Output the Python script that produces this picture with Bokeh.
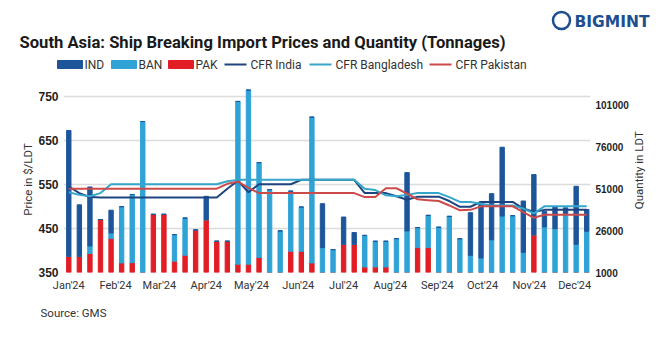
import math
import pandas as pd
from datetime import datetime
from bokeh.plotting import figure
from bokeh.layouts import column, row
from bokeh.models import (Range1d, LinearAxis, FixedTicker, MonthsTicker, DatetimeTickFormatter,
                          NumeralTickFormatter)
from bokeh.models import ColumnDataSource
from bokeh.core.properties import value
from bokeh.embed import file_html
from bokeh.resources import INLINE

# ---- data (weekly, 2024) ----
weeks = pd.date_range("2024-01-01", periods=50, freq="7D")

ind = [75300, 30800, 35300, 0, 13600, 0, 0, 0, 0, 0,
       0, 0, 0, 14000, 0, 0, 0, 0, 0, 0,
       0, 0, 0, 0, 26300, 0, 16300, 7000, 0, 0,
       0, 0, 34900, 0, 0, 0, 0, 0, 25500, 33500,
       27600, 41200, 0, 30700, 36000, 9400, 12900, 3300, 34700, 13000]
ban = [0, 0, 4500, 0, 3400, 33700, 40800, 91400, 0, 0,
       15900, 22300, 0, 0, 0, 0, 97400, 104200, 56800, 50600,
       25900, 36000, 26500, 87300, 15900, 14700, 0, 0, 18900, 15400,
       15400, 21300, 25900, 12000, 19300, 28100, 34600, 21200, 11300, 9700,
       20600, 34800, 35000, 13100, 0, 28300, 27300, 36400, 17900, 25700]
pak = [10700, 10700, 12400, 32700, 21300, 6700, 6900, 0, 35800, 35800,
       7800, 11300, 26500, 32600, 19700, 19700, 6000, 6000, 10000, 0,
       0, 13700, 13700, 6700, 0, 0, 17900, 17900, 4300, 4300,
       4300, 0, 0, 15900, 15900, 0, 0, 0, 0, 0,
       0, 0, 0, 0, 23600, 0, 0, 0, 0, 0]

cfr_india = [545, 530, 521, 520, 520, 520, 520, 520, 520, 520,
             520, 520, 520, 520, 520, 540, 558, 532, 550, 550,
             550, 550, 560, 560, 560, 560, 560, 560, 530, 530,
             530, 523, 515, 522, 522, 522, 512, 499, 499, 510,
             510, 510, 510, 495, 487, 492, 492, 492, 492, 492]
cfr_bangladesh = [532, 526, 523, 530, 550, 550, 550, 550, 550, 550,
                  550, 550, 550, 550, 550, 557, 560, 560, 560, 560,
                  560, 560, 560, 560, 560, 560, 560, 560, 540, 537,
                  525, 523, 526, 530, 530, 530, 521, 510, 510, 506,
                  502, 502, 502, 495, 484, 500, 500, 500, 500, 500]
cfr_pakistan = [540, 540, 540, 540, 540, 540, 540, 540, 540, 540,
                540, 540, 540, 540, 540, 551, 556, 542, 530, 530,
                530, 530, 530, 530, 530, 530, 530, 530, 521, 521,
                541, 541, 529, 516, 514, 512, 502, 491, 492, 500,
                500, 500, 500, 487, 474, 481, 481, 481, 481, 481]

price_ticks = [350, 450, 550, 650, 750]
qty_ticks = [1000, 26000, 51000, 76000, 101000]

series_names = ["IND", "BAN", "PAK"]
line_names = ["CFR India", "CFR Bangladesh", "CFR Pakistan"]

C_IND = "#1d559a"
C_BAN = "#2fa3d6"
C_PAK = "#e11d25"
C_L_IND = "#1e447f"
C_L_BAN = "#35a6cc"
C_L_PAK = "#cd4a4a"
TXT = "#333333"


def blank(w, h):
    f = figure(width=w, height=h, x_range=Range1d(0, w), y_range=Range1d(h, 0),
               output_backend="svg", toolbar_location=None, min_border=0)
    f.axis.visible = False
    f.grid.visible = False
    f.outline_line_color = None
    return f


# ---------------- header ----------------
HH = 80
head = blank(665, HH)
head.text(x=[19], y=[42], text=["South Asia: Ship Breaking Import Prices and Quantity (Tonnages)"],
          text_font=value("Roboto"), text_font_style="bold", text_font_size="16.6px",
          text_color="#1a1a1a", text_baseline="middle")
head.text(x=[574], y=[21], text=["BIGMINT"], text_font=value("DejaVu Sans"),
          text_font_style="bold", text_font_size="15.5px", text_color="#1d4e8f",
          text_baseline="middle")
head.scatter(x=[561], y=[20], marker="circle", size=17, fill_color=None,
             line_color="#1d4e8f", line_width=2.5)

# legend (drawn by hand so it can sit outside the plot frame)
LY = 64
sw_x = [57, 111, 168]          # swatch left edges
ln_x = [224, 309, 429]         # legend line left edges
head.rect(x=[x + 12.5 for x in sw_x], y=[LY] * 3, width=25, height=8,
          color=[C_IND, C_BAN, C_PAK])
for x, c in zip(ln_x, [C_L_IND, C_L_BAN, C_L_PAK]):
    head.line(x=[x, x + 22], y=[LY, LY], color=c, line_width=2)
head.text(x=[x + 27 for x in sw_x] + [x + 26 for x in ln_x], y=[LY] * 6,
          text=series_names + line_names, text_font=value("Roboto"), text_font_size="12px",
          text_color=TXT, text_baseline="middle")

# ---------------- main chart ----------------
FL, FT = 63, 6
MH = 220
MW = 631
FR = MW - 591
FB = MH - (272 - HH)

src = ColumnDataSource(dict(week=weeks, IND=ind, BAN=ban, PAK=pak,
                            india=cfr_india, bang=cfr_bangladesh, pakp=cfr_pakistan))

p = figure(width=MW, height=MH, x_axis_type="datetime",
           x_range=Range1d(datetime(2023, 12, 28, 12), datetime(2024, 12, 11, 12)),
           y_range=Range1d(350, 771.7),
           output_backend="svg", toolbar_location=None,
           min_border_left=FL, min_border_right=FR, min_border_top=FT, min_border_bottom=FB)
p.extra_y_ranges = {"qty": Range1d(1000, 112350)}
p.outline_line_color = None
p.xgrid.visible = False
p.ygrid.grid_line_color = "#dcdcdc"
p.ygrid.grid_line_width = 1.5

bar_w = 2.9 * 86400000
p.vbar_stack(["PAK", "BAN", "IND"], x="week", width=bar_w,
             color=[C_PAK, C_BAN, C_IND], source=src, y_range_name="qty")

p.line("week", "india", source=src, color=C_L_IND, line_width=2)
p.line("week", "bang", source=src, color=C_L_BAN, line_width=2)
p.line("week", "pakp", source=src, color=C_L_PAK, line_width=2)

ya = p.yaxis[0]
ya.ticker = FixedTicker(ticks=price_ticks)
ya.axis_label = "Price in $/LDT"
ya.axis_label_standoff = 0

ra = LinearAxis(y_range_name="qty", ticker=FixedTicker(ticks=qty_ticks),
                formatter=NumeralTickFormatter(format="0"))
p.add_layout(ra, "right")

for ax, fs in [(ya, "12px"), (ra, "10px")]:
    ax.axis_line_color = None
    ax.major_tick_line_color = None
    ax.minor_tick_line_color = None
    ax.major_tick_out = 0
    ax.major_label_text_font = "Liberation Sans"
    ax.major_label_text_font_style = "bold"
    ax.major_label_text_font_size = fs
    ax.major_label_text_color = "#1f1f1f"
    ax.major_label_standoff = 5
    ax.axis_label_text_font = "Roboto"
    ax.axis_label_text_font_style = "normal"
    ax.axis_label_text_font_size = "11.5px"
    ax.axis_label_text_color = TXT

xa = p.xaxis[0]
xa.ticker = MonthsTicker(months=list(range(12)))
xa.formatter = DatetimeTickFormatter(months="%b'%y", days="%b'%y")
xa.axis_line_color = None
xa.major_tick_line_color = None
xa.minor_tick_line_color = None
xa.major_tick_out = 0
xa.major_label_standoff = 6
xa.major_label_text_font = "Roboto"
xa.major_label_text_font_size = "11px"
xa.major_label_text_color = TXT

# right-hand axis title (reads bottom to top)
side = blank(665 - MW, MH)
side.text(x=[638 - MW], y=[179 - HH], text=["Quantity in LDT"], angle=math.pi / 2,
          text_font=value("Roboto"), text_font_size="11.5px", text_color=TXT,
          text_align="center", text_baseline="middle")

# ---------------- footer ----------------
FH = 344 - HH - MH
foot = blank(665, FH)
foot.text(x=[40], y=[312 - HH - MH], text=["Source: GMS"], text_font=value("Roboto"),
          text_font_size="11.5px", text_color=TXT, text_baseline="middle")

layout = column(head, row(p, side, spacing=0), foot, spacing=0)
open("out.html", "w").write(file_html(layout, INLINE))
